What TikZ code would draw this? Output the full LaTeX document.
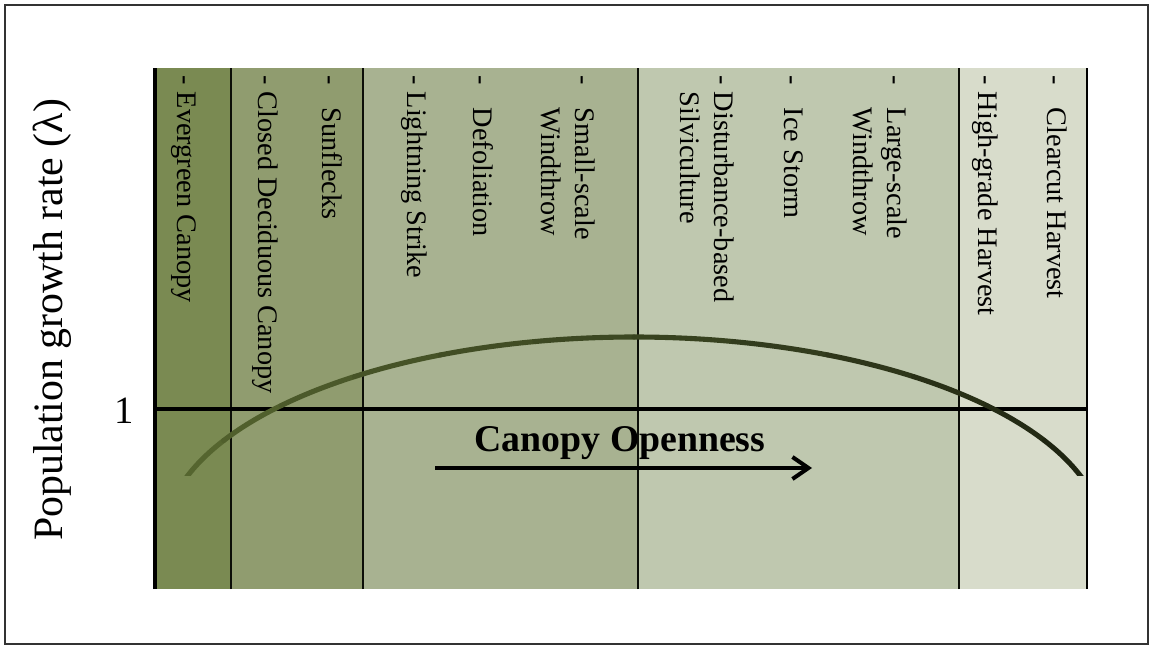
\documentclass[tikz,border=0pt]{standalone}
\usepackage{fontspec}
\setmainfont{Liberation Serif}
\usetikzlibrary{arrows.meta}
\definecolor{zoneA}{HTML}{7A8A52}
\definecolor{zoneB}{HTML}{909C6F}
\definecolor{zoneC}{HTML}{A8B291}
\definecolor{zoneD}{HTML}{BFC8AF}
\definecolor{zoneE}{HTML}{D8DCCB}
\definecolor{curveL}{HTML}{55652F}
\definecolor{curveR}{HTML}{1F2512}
\newcommand{\tabgap}{\hspace{0.82em}}
\tikzset{
  divider/.style={line width=1pt, draw=black!90!zoneA},
  curveline/.style={line width=2.9pt, line cap=round},
  lbl/.style={rotate=-90, anchor=west, inner sep=0pt, align=left,
    font=\fontsize{16.1}{19.3}\selectfont},
  openarrow/.style={line width=2.3pt, -{Straight Barb[length=0.32cm,width=0.44cm]}}
}
\begin{document}
\begin{tikzpicture}[x=0.02cm,y=0.02cm]
  \useasboundingbox (0,0) rectangle (1151,646);
  \draw[line width=1.2pt, draw=black!80] (5,2) rectangle (1148,641);
  \fill[zoneA] (155,57) rectangle (231,578);
  \fill[zoneB] (231,57) rectangle (363,578);
  \fill[zoneC] (363,57) rectangle (638,578);
  \fill[zoneD] (638,57) rectangle (959,578);
  \fill[zoneE] (959,57) rectangle (1087,578);
  \begin{scope}[divider]
    \draw (231,57) -- (231,578);
    \draw (363,57) -- (363,578);
    \draw (638,57) -- (638,578);
    \draw (959,57) -- (959,578);
  \end{scope}
  \draw[line width=2.3pt] (155,57) -- (155,578);
  \draw[line width=1.3pt] (1087,57) -- (1087,578);
  \draw[line width=2.2pt] (155,237) -- (1087,237);
  \begin{scope}
    \clip (0,171) rectangle (1151,646);
    \foreach \i in {0,...,11} {
      \pgfmathsetmacro\sa{163-\i*12.1667}
      \pgfmathsetmacro\ea{\sa-12.1667}
      \pgfmathtruncatemacro\mix{100-\i*100/11}
      \draw[curveline, curveL!\mix!curveR]
        ({634+470*cos(\sa)},{107+202*sin(\sa)})
        arc[start angle=\sa, end angle=\ea, x radius=470, y radius=202];
    }
  \end{scope}
  \node[lbl] (evergreen) at (184,571) {- Evergreen Canopy};
  \node[lbl] (closed) at (265,571) {- Closed Deciduous Canopy};
  \node[lbl] (sunflecks) at (332,571) {-\tabgap Sunflecks};
  \node[lbl] (lightning) at (414,571) {- Lightning Strike};
  \node[lbl] (defoliation) at (483,571) {-\tabgap Defoliation};
  \node[lbl] (smallwind) at (568,571) {-\tabgap Small-scale\\\phantom{-}\tabgap Windthrow};
  \node[lbl] (silviculture) at (707,571) {- Disturbance-based\\\phantom{- }Silviculture};
  \node[lbl] (icestorm) at (794,571) {-\tabgap Ice Storm};
  \node[lbl] (largewind) at (880,571) {-\tabgap Large-scale\\\phantom{-}\tabgap Windthrow};
  \node[lbl] (highgrade) at (985,571) {- High-grade Harvest};
  \node[lbl] (clearcut) at (1057,571) {-\tabgap Clearcut Harvest};
  \node[rotate=90, font=\fontsize{23.8}{28}\selectfont] (ylabel) at (52,326) {Population growth rate (λ)};
  \node[font=\fontsize{22}{26}\selectfont] (one) at (124,235) {1};
  \node[font=\fontsize{21.5}{26}\selectfont\bfseries] (openness) at (620,203) {Canopy Openness};
  \coordinate (arrowstart) at (435,178);
  \coordinate (arrowend) at (812,178);
  \draw[openarrow] (arrowstart) -- (arrowend);
\end{tikzpicture}
\end{document}
